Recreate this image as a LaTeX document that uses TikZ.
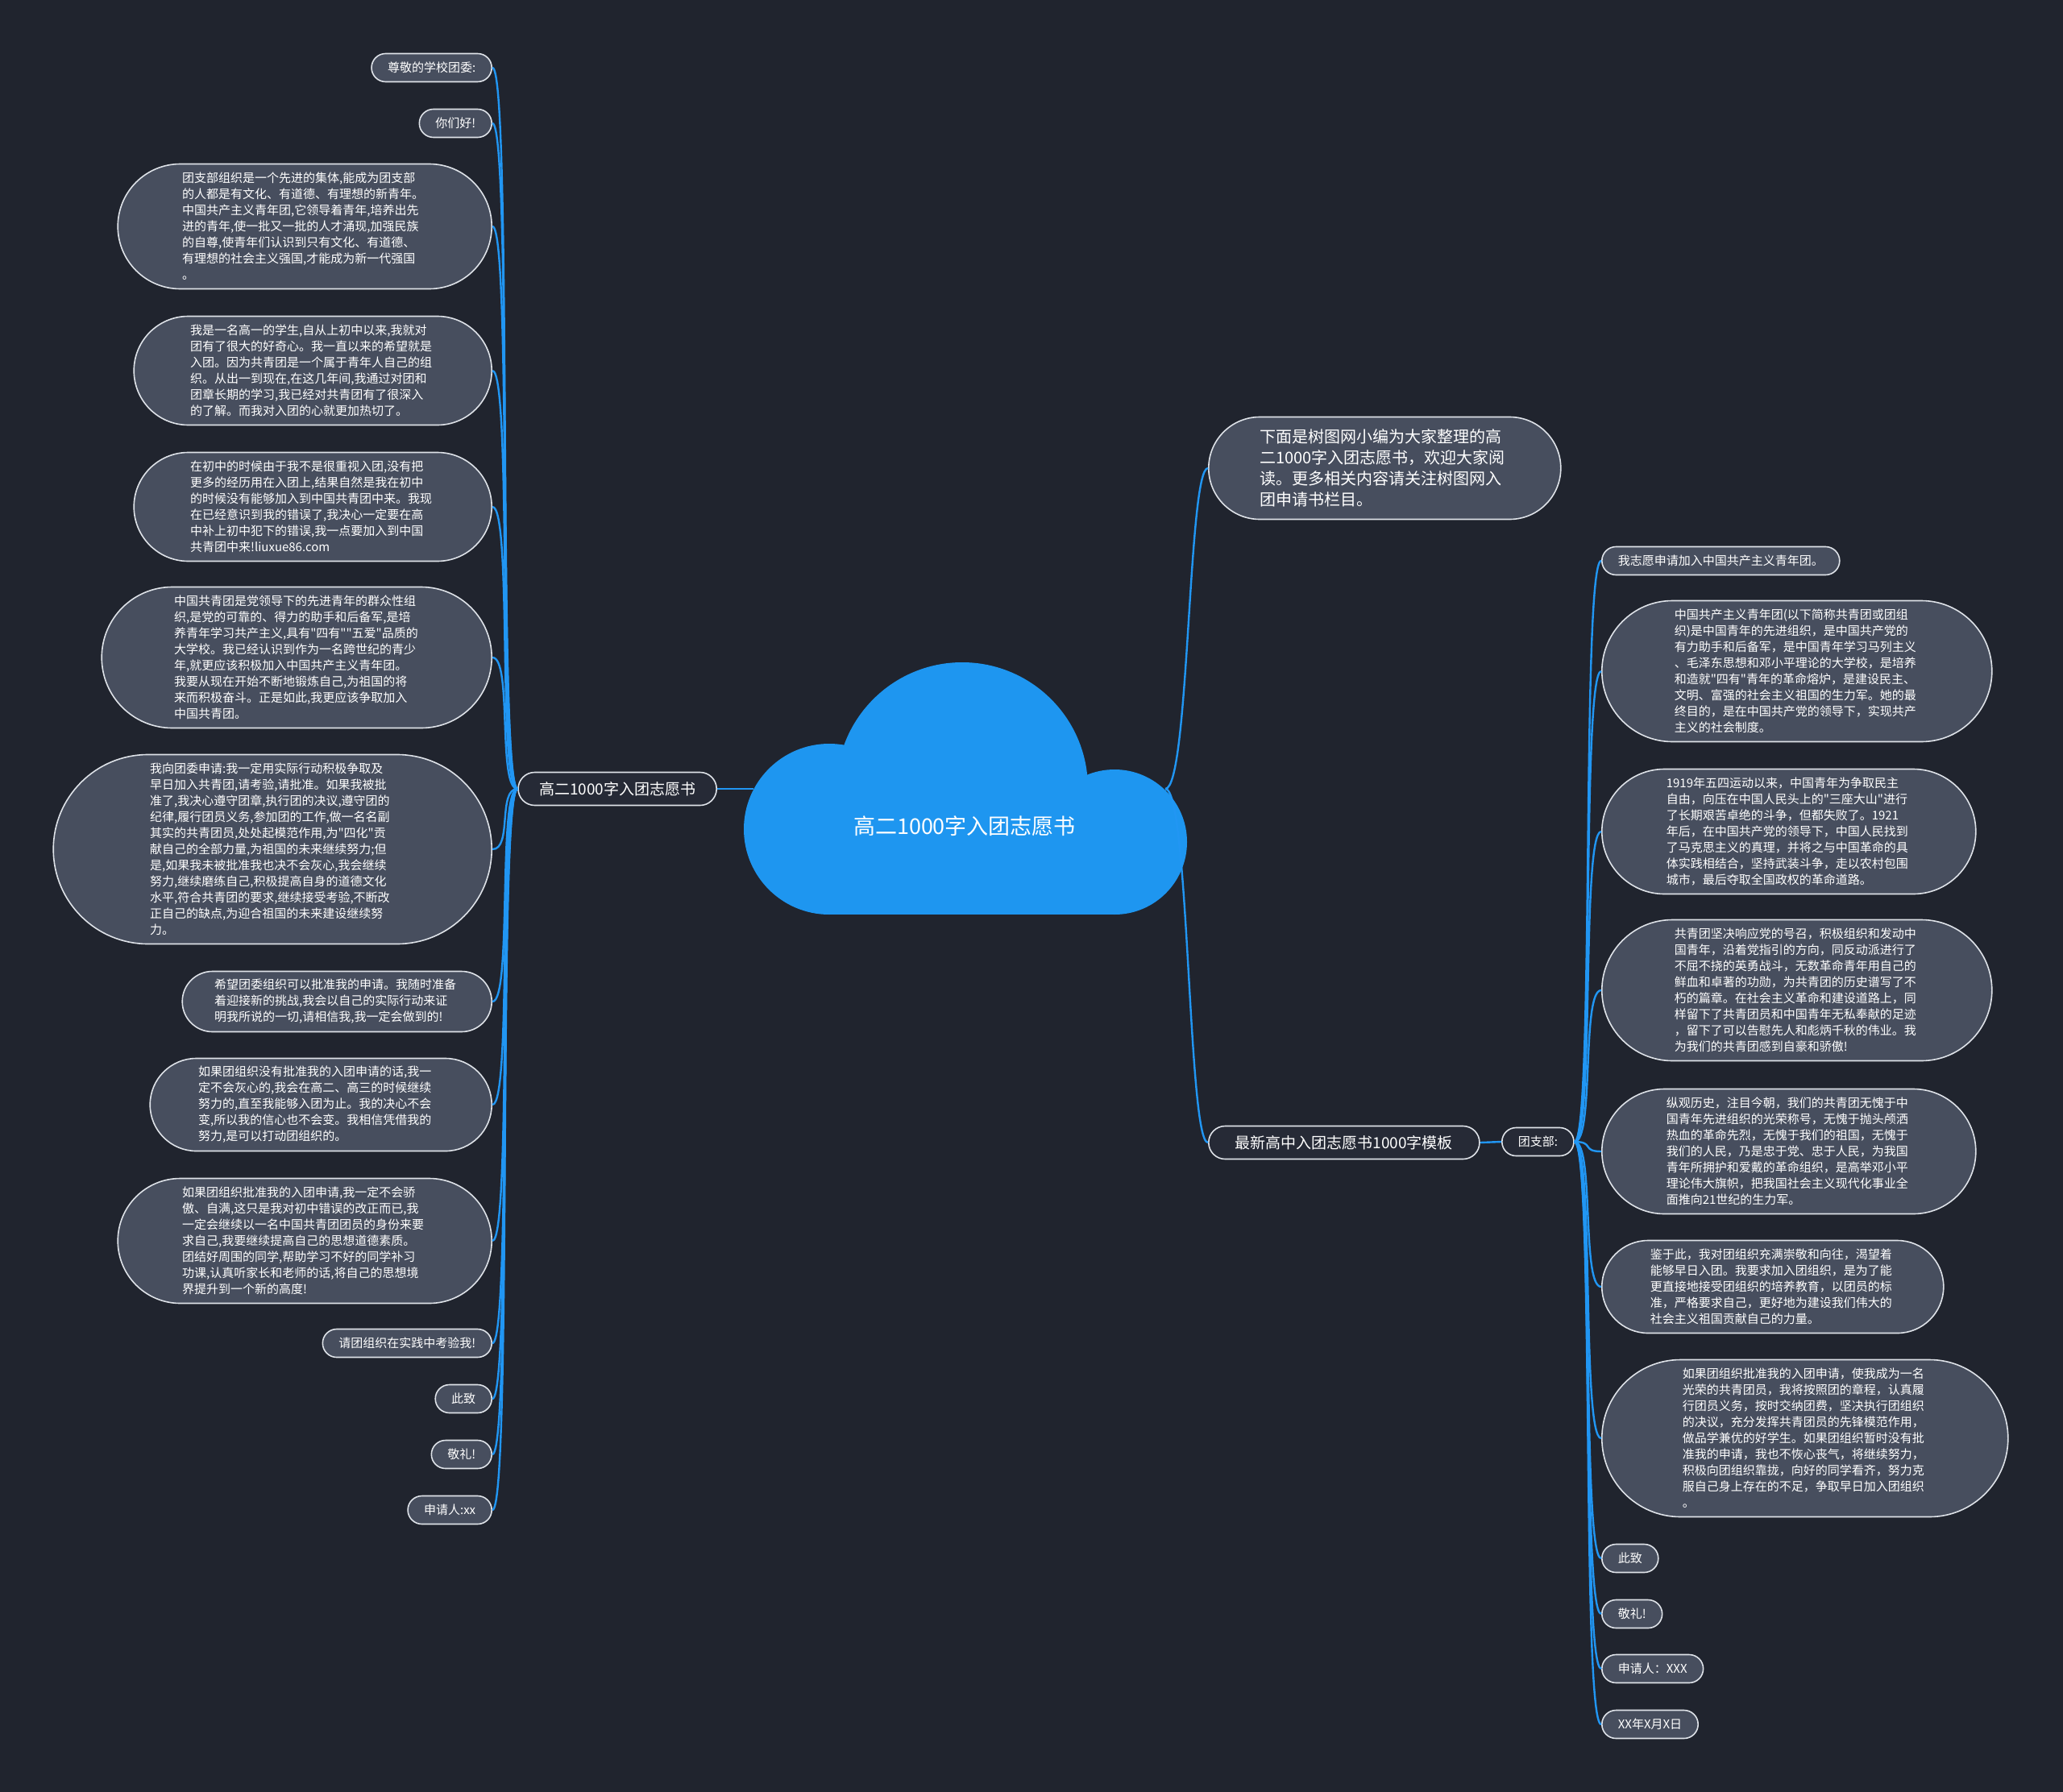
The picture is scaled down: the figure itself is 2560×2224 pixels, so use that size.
\documentclass[tikz,border=0pt]{standalone}
\usepackage{fontspec}
\setmainfont{Noto Sans CJK SC}[Ligatures=TeXOff]
\usetikzlibrary{shapes.misc, positioning}

\definecolor{bgnavy}{RGB}{32,36,46}
\definecolor{leafgray}{RGB}{71,78,94}
\definecolor{branchdark}{RGB}{38,42,54}
\definecolor{edgegray}{RGB}{222,226,232}
\definecolor{linkblue}{RGB}{33,150,243}
\definecolor{cloudblue}{RGB}{30,150,240}

\begin{document}
\begin{tikzpicture}[
    x=1pt, y=-1pt,
    leaf/.style={draw=edgegray, line width=1.6pt, rectangle, rounded corners=10pt*#1+7.5pt, minimum height=20pt*#1+15pt, inner xsep=10pt*#1+10pt, inner ysep=9pt, fill=leafgray, text=white, font=\fontsize{15pt}{20pt}\selectfont},
    leaf/.default=1,
    para/.style={leaf=#1, text width=304pt, align=left},
    branch/.style={leaf, fill=branchdark, minimum height=41pt, rounded corners=20.5pt, inner xsep=33pt, font=\fontsize{19pt}{24pt}\selectfont},
    link/.style={draw=linkblue, line width=2.4pt}
]

    % ================= BACKGROUND =================
    \fill[bgnavy] (0,0) rectangle (2560,2224);
    \useasboundingbox (0,0) rectangle (2560,2224);

    % ================= ROOT CLOUD =================
    \fill[cloudblue] (1029,1029) circle[radius=106pt];
    \fill[cloudblue] (1383,1045) circle[radius=90pt];
    \fill[cloudblue] (1194,978) circle[radius=156pt];
    \fill[cloudblue] (1029,1000) rectangle (1383,1135);
    \node[text=white, font=\fontsize{27pt}{32pt}\selectfont] (ROOT) at (1197,1025) {高二1000字入团志愿书};
    \coordinate (ROOTW) at (935,979);
    \coordinate (ROOTE) at (1446,979);

    % ================= LEFT BRANCH =================
    \node[branch, inner xsep=26pt, anchor=east] (LEFT) at (890,979) {高二1000字入团志愿书};

    \node[leaf, anchor=east] (l_greet) at (611,84) {尊敬的学校团委:};
    \node[leaf, anchor=east] (l_hello) at (611,153) {你们好!};
    \node[para=7, anchor=east] (l_p1) at (611,281) {团支部组织是一个先进的集体,能成为团支部\\的人都是有文化、有道德、有理想的新青年。\\中国共产主义青年团,它领导着青年,培养出先\\进的青年,使一批又一批的人才涌现,加强民族\\的自尊,使青年们认识到只有文化、有道德、\\有理想的社会主义强国,才能成为新一代强国\\。};
    \node[para=6, anchor=east] (l_p2) at (611,460) {我是一名高一的学生,自从上初中以来,我就对\\团有了很大的好奇心。我一直以来的希望就是\\入团。因为共青团是一个属于青年人自己的组\\织。从出一到现在,在这几年间,我通过对团和\\团章长期的学习,我已经对共青团有了很深入\\的了解。而我对入团的心就更加热切了。};
    \node[para=6, anchor=east] (l_p3) at (611,629) {在初中的时候由于我不是很重视入团,没有把\\更多的经历用在入团上,结果自然是我在初中\\的时候没有能够加入到中国共青团中来。我现\\在已经意识到我的错误了,我决心一定要在高\\中补上初中犯下的错误,我一点要加入到中国\\共青团中来!liuxue86.com};
    \node[para=8, anchor=east] (l_p4) at (611,816) {中国共青团是党领导下的先进青年的群众性组\\织,是党的可靠的、得力的助手和后备军,是培\\养青年学习共产主义,具有"四有""五爱"品质的\\大学校。我已经认识到作为一名跨世纪的青少\\年,就更应该积极加入中国共产主义青年团。\\我要从现在开始不断地锻炼自己,为祖国的将\\来而积极奋斗。正是如此,我更应该争取加入\\中国共青团。};
    \node[para=11, anchor=east] (l_p5) at (611,1054) {我向团委申请:我一定用实际行动积极争取及\\早日加入共青团,请考验,请批准。如果我被批\\准了,我决心遵守团章,执行团的决议,遵守团的\\纪律,履行团员义务,参加团的工作,做一名名副\\其实的共青团员,处处起模范作用,为"四化"贡\\献自己的全部力量,为祖国的未来继续努力;但\\是,如果我未被批准我也决不会灰心,我会继续\\努力,继续磨练自己,积极提高自身的道德文化\\水平,符合共青团的要求,继续接受考验,不断改\\正自己的缺点,为迎合祖国的未来建设继续努\\力。};
    \node[para=3, anchor=east] (l_p6) at (611,1243) {希望团委组织可以批准我的申请。我随时准备\\着迎接新的挑战,我会以自己的实际行动来证\\明我所说的一切,请相信我,我一定会做到的!};
    \node[para=5, anchor=east] (l_p7) at (611,1371) {如果团组织没有批准我的入团申请的话,我一\\定不会灰心的,我会在高二、高三的时候继续\\努力的,直至我能够入团为止。我的决心不会\\变,所以我的信心也不会变。我相信凭借我的\\努力,是可以打动团组织的。};
    \node[para=7, anchor=east] (l_p8) at (611,1540) {如果团组织批准我的入团申请,我一定不会骄\\傲、自满,这只是我对初中错误的改正而已,我\\一定会继续以一名中国共青团团员的身份来要\\求自己,我要继续提高自己的思想道德素质。\\团结好周围的同学,帮助学习不好的同学补习\\功课,认真听家长和老师的话,将自己的思想境\\界提升到一个新的高度!};
    \node[leaf, anchor=east] (l_test) at (611,1667) {请团组织在实践中考验我!};
    \node[leaf, anchor=east] (l_salute) at (611,1736) {此致};
    \node[leaf, anchor=east] (l_regards) at (611,1805) {敬礼!};
    \node[leaf, anchor=east] (l_sign) at (611,1874) {申请人:xx};

    % ================= RIGHT BRANCHES =================
    \node[leaf, anchor=west, text width=310pt, align=left, minimum height=127pt, rounded corners=63.5pt, inner xsep=63.5pt, font=\fontsize{20pt}{26pt}\selectfont] (INTRO) at (1499,581) {下面是树图网小编为大家整理的高\\二1000字入团志愿书，欢迎大家阅\\读。更多相关内容请关注树图网入\\团申请书栏目。};
    \node[branch, anchor=west] (TEMPLATE) at (1499,1418) {最新高中入团志愿书1000字模板};
    \node[leaf, fill=branchdark, anchor=west] (BRANCH) at (1863,1417) {团支部:};

    \node[leaf, anchor=west] (r_join) at (1987,696) {我志愿申请加入中国共产主义青年团。};
    \node[para=8, anchor=west] (r_p1) at (1987,833) {中国共产主义青年团(以下简称共青团或团组\\织)是中国青年的先进组织，是中国共产党的\\有力助手和后备军，是中国青年学习马列主义\\、毛泽东思想和邓小平理论的大学校，是培养\\和造就"四有"青年的革命熔炉，是建设民主、\\文明、富强的社会主义祖国的生力军。她的最\\终目的，是在中国共产党的领导下，实现共产\\主义的社会制度。};
    \node[para=7, anchor=west] (r_p2) at (1987,1032) {1919年五四运动以来，中国青年为争取民主\\自由，向压在中国人民头上的"三座大山"进行\\了长期艰苦卓绝的斗争，但都失败了。1921\\年后，在中国共产党的领导下，中国人民找到\\了马克思主义的真理，并将之与中国革命的具\\体实践相结合，坚持武装斗争，走以农村包围\\城市，最后夺取全国政权的革命道路。};
    \node[para=8, anchor=west] (r_p3) at (1987,1229) {共青团坚决响应党的号召，积极组织和发动中\\国青年，沿着党指引的方向，同反动派进行了\\不屈不挠的英勇战斗，无数革命青年用自己的\\鲜血和卓著的功勋，为共青团的历史谱写了不\\朽的篇章。在社会主义革命和建设道路上，同\\样留下了共青团员和中国青年无私奉献的足迹\\，留下了可以告慰先人和彪炳千秋的伟业。我\\为我们的共青团感到自豪和骄傲!};
    \node[para=7, anchor=west] (r_p4) at (1987,1429) {纵观历史，注目今朝，我们的共青团无愧于中\\国青年先进组织的光荣称号，无愧于抛头颅洒\\热血的革命先烈，无愧于我们的祖国，无愧于\\我们的人民，乃是忠于党、忠于人民，为我国\\青年所拥护和爱戴的革命组织，是高举邓小平\\理论伟大旗帜，把我国社会主义现代化事业全\\面推向21世纪的生力军。};
    \node[para=5, anchor=west] (r_p5) at (1987,1597) {鉴于此，我对团组织充满崇敬和向往，渴望着\\能够早日入团。我要求加入团组织，是为了能\\更直接地接受团组织的培养教育，以团员的标\\准，严格要求自己，更好地为建设我们伟大的\\社会主义祖国贡献自己的力量。};
    \node[para=9, anchor=west] (r_p6) at (1987,1785) {如果团组织批准我的入团申请，使我成为一名\\光荣的共青团员，我将按照团的章程，认真履\\行团员义务，按时交纳团费，坚决执行团组织\\的决议，充分发挥共青团员的先锋模范作用，\\做品学兼优的好学生。如果团组织暂时没有批\\准我的申请，我也不恢心丧气，将继续努力，\\积极向团组织靠拢，向好的同学看齐，努力克\\服自己身上存在的不足，争取早日加入团组织\\。};
    \node[leaf, anchor=west] (r_salute) at (1987,1934) {此致};
    \node[leaf, anchor=west] (r_regards) at (1987,2003) {敬礼!};
    \node[leaf, anchor=west] (r_sign) at (1987,2071) {申请人：XXX};
    \node[leaf, anchor=west] (r_date) at (1987,2140) {XX年X月X日};

    % ================= CONNECTIONS =================

    % ROOT -> LEFT
    \draw[link] (LEFT.east) -- (ROOTW);

    % LEFT -> leaves
    \draw[link] (LEFT.west) .. controls +(-25,0) and +(25,0) .. (l_greet.east);
    \draw[link] (LEFT.west) .. controls +(-25,0) and +(25,0) .. (l_hello.east);
    \draw[link] (LEFT.west) .. controls +(-25,0) and +(25,0) .. (l_p1.east);
    \draw[link] (LEFT.west) .. controls +(-25,0) and +(25,0) .. (l_p2.east);
    \draw[link] (LEFT.west) .. controls +(-25,0) and +(25,0) .. (l_p3.east);
    \draw[link] (LEFT.west) .. controls +(-25,0) and +(25,0) .. (l_p4.east);
    \draw[link] (LEFT.west) .. controls +(-25,0) and +(25,0) .. (l_p5.east);
    \draw[link] (LEFT.west) .. controls +(-25,0) and +(25,0) .. (l_p6.east);
    \draw[link] (LEFT.west) .. controls +(-25,0) and +(25,0) .. (l_p7.east);
    \draw[link] (LEFT.west) .. controls +(-25,0) and +(25,0) .. (l_p8.east);
    \draw[link] (LEFT.west) .. controls +(-25,0) and +(25,0) .. (l_test.east);
    \draw[link] (LEFT.west) .. controls +(-25,0) and +(25,0) .. (l_salute.east);
    \draw[link] (LEFT.west) .. controls +(-25,0) and +(25,0) .. (l_regards.east);
    \draw[link] (LEFT.west) .. controls +(-25,0) and +(25,0) .. (l_sign.east);

    % ROOT -> INTRO, TEMPLATE
    \draw[link] (ROOTE) .. controls +(30,0) and +(-25,0) .. (INTRO.west);
    \draw[link] (ROOTE) .. controls +(30,0) and +(-25,0) .. (TEMPLATE.west);

    % TEMPLATE -> BRANCH
    \draw[link] (TEMPLATE.east) -- (BRANCH.west);

    % BRANCH -> leaves
    \draw[link] (BRANCH.east) .. controls +(25,0) and +(-25,0) .. (r_join.west);
    \draw[link] (BRANCH.east) .. controls +(25,0) and +(-25,0) .. (r_p1.west);
    \draw[link] (BRANCH.east) .. controls +(25,0) and +(-25,0) .. (r_p2.west);
    \draw[link] (BRANCH.east) .. controls +(25,0) and +(-25,0) .. (r_p3.west);
    \draw[link] (BRANCH.east) .. controls +(25,0) and +(-25,0) .. (r_p4.west);
    \draw[link] (BRANCH.east) .. controls +(25,0) and +(-25,0) .. (r_p5.west);
    \draw[link] (BRANCH.east) .. controls +(25,0) and +(-25,0) .. (r_p6.west);
    \draw[link] (BRANCH.east) .. controls +(25,0) and +(-25,0) .. (r_salute.west);
    \draw[link] (BRANCH.east) .. controls +(25,0) and +(-25,0) .. (r_regards.west);
    \draw[link] (BRANCH.east) .. controls +(25,0) and +(-25,0) .. (r_sign.west);
    \draw[link] (BRANCH.east) .. controls +(25,0) and +(-25,0) .. (r_date.west);

\end{tikzpicture}
\end{document}
